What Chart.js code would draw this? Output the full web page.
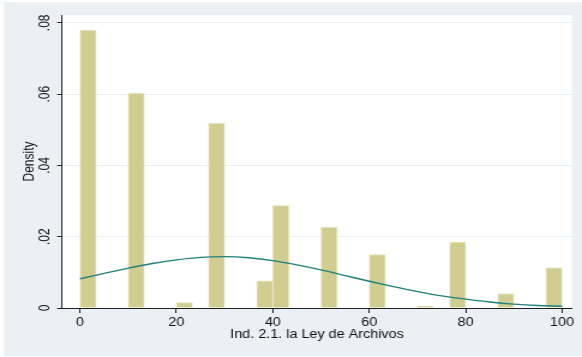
<!DOCTYPE html>
<html>
<head>
<meta charset="utf-8">
<script src="https://cdn.jsdelivr.net/npm/chart.js@4"></script>
<style>
  html, body { margin: 0; padding: 0; background: #fff; overflow: hidden; }
</style>
</head>
<body>
<!-- drawn at 485 wide and stretched to 582 so the text keeps the wide look of the original graph -->
<canvas id="hist" width="485" height="357" style="width:582px;height:357px;display:block"></canvas>
<script>
// histogram: 30 bins of equal width from 0 to 100, null = empty bin
const binStart = 0;
const binWidth = 100 / 30;
const binDensity = [
  0.0780, null, null, 0.0602, null, null, 0.0015, null, 0.0518, null,
  null, 0.0076, 0.0287, null, null, 0.0226, null, null, 0.0150, null,
  null, 0.0005, null, 0.0185, null, null, 0.0040, null, null, 0.0113
];

// normal density overlay
const curveX = [0, 5, 10, 15, 20, 25, 30, 35, 40, 45, 50, 55, 60, 65, 70, 75, 80, 85, 90, 95, 100];
const curveY = [0.0082, 0.0097, 0.0112, 0.0125, 0.0135, 0.0142, 0.0144, 0.0141, 0.0133, 0.0121,
                0.0107, 0.0091, 0.0075, 0.0060, 0.0046, 0.0034, 0.0025, 0.0017, 0.0011, 0.0007, 0.0005];

const xTicks = [0, 20, 40, 60, 80, 100];
const xTickLabels = ['0', '20', '40', '60', '80', '100'];
const yTicks = [0, 0.02, 0.04, 0.06, 0.08];
const yTickLabels = ['0', '.02', '.04', '.06', '.08'];
const xTitle = 'Ind. 2.1. la Ley de Archivos';
const yTitle = 'Density';

const outerColor = '#eaf0f3';
const gridColor = '#e8eff2';
const axisColor = '#1e1e1e';
const textColor = '#111';
const labelFont = { family: "'Liberation Sans', Arial, sans-serif", size: 12 };

const backdrop = {
  id: 'backdrop',
  beforeDraw(chart) {
    const { ctx, width, height, chartArea: a } = chart;
    ctx.save();
    ctx.fillStyle = '#fff';
    ctx.fillRect(0, 0, width, height);
    ctx.fillStyle = outerColor;
    ctx.fillRect(3.3, 2, width - 3.3, 354);
    ctx.fillStyle = '#fff';
    ctx.fillRect(a.left, a.top, a.right - a.left, a.bottom - a.top);
    ctx.restore();
  }
};

new Chart(document.getElementById('hist'), {
  type: 'bar',
  data: {
    datasets: [
      {
        type: 'line',
        data: curveX.map((x, i) => ({ x: x, y: curveY[i] })),
        borderColor: '#21807b',
        borderWidth: 1.4,
        pointRadius: 0,
        fill: false,
        cubicInterpolationMode: 'monotone',
        order: 1
      },
      {
        type: 'bar',
        data: binDensity.map((d, i) => ({ x: binStart + (i + 0.5) * binWidth, y: d })),
        backgroundColor: '#d1cd90',
        borderColor: '#e6e3bb',
        borderWidth: 1,
        borderSkipped: 'start',
        barPercentage: 1,
        categoryPercentage: 1,
        order: 2
      }
    ]
  },
  options: {
    responsive: false,
    animation: false,
    layout: { padding: { left: 0, top: 15, right: 8.33, bottom: 0 } },
    plugins: {
      legend: { display: false },
      tooltip: { enabled: false }
    },
    scales: {
      x: {
        type: 'linear',
        offset: false,
        min: -3.73,
        max: 102.07,
        afterBuildTicks: s => { s.ticks = xTicks.map(v => ({ value: v })); },
        afterFit: s => { s.height = 49; },
        grid: { offset: false, drawOnChartArea: false, tickLength: 5, tickColor: axisColor, tickWidth: 1 },
        border: { color: axisColor, width: 1 },
        ticks: {
          color: textColor, font: labelFont, padding: 2,
          maxRotation: 0, autoSkip: false,
          callback: (v, i) => xTickLabels[i]
        },
        title: {
          display: true, text: xTitle, color: textColor, font: labelFont,
          padding: { top: 0, bottom: 15 }
        }
      },
      y: {
        min: 0,
        max: 0.0822,
        afterBuildTicks: s => { s.ticks = yTicks.map(v => ({ value: v })); },
        afterFit: s => { s.width = 51.67; },
        grid: { color: gridColor, lineWidth: 1, tickLength: 4, tickColor: axisColor, tickWidth: 1 },
        border: { color: axisColor, width: 1 },
        ticks: {
          color: textColor, font: labelFont, padding: 2,
          minRotation: 90, maxRotation: 90, crossAlign: 'center',
          callback: (v, i) => yTickLabels[i]
        },
        title: {
          display: true, text: yTitle, color: textColor, font: labelFont,
          padding: { top: 17, bottom: 0 }
        }
      }
    }
  },
  plugins: [backdrop]
});
</script>
</body>
</html>
